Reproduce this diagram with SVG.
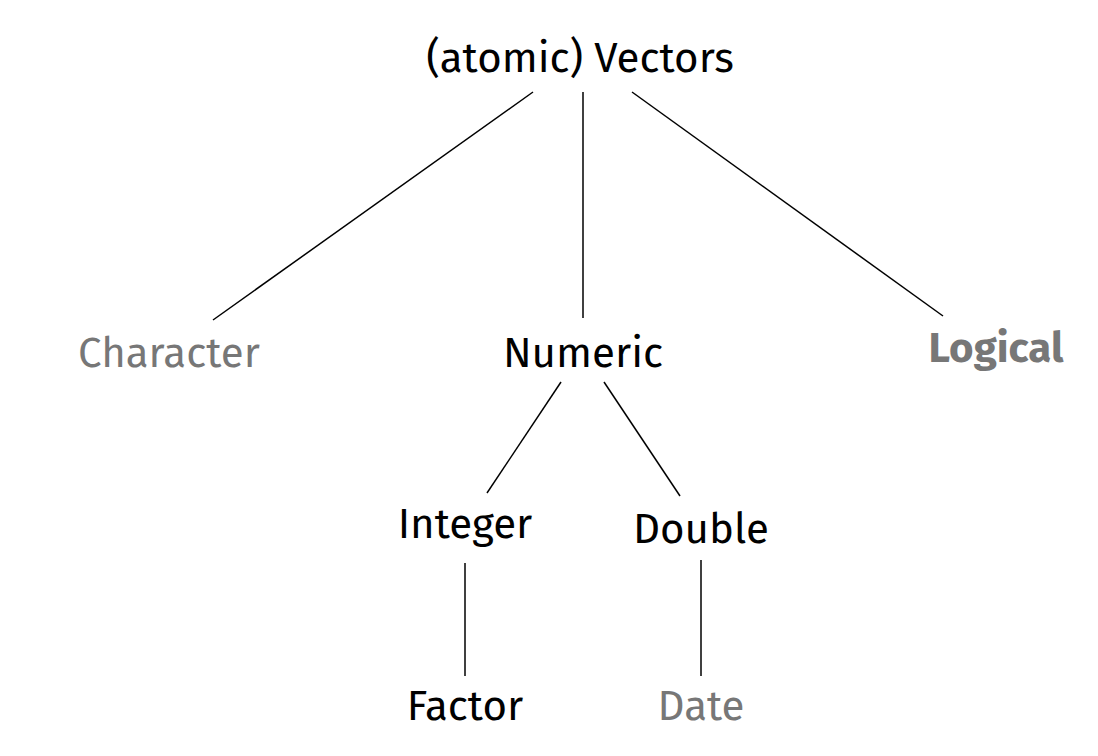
<svg xmlns="http://www.w3.org/2000/svg" width="1098" height="756" viewBox="0 0 1098 756">
<style>
text{font-family:"Fira Sans","Open Sans","Noto Sans",sans-serif;font-size:42px;text-anchor:middle;fill:#000}
.g{fill:#777}
.b{font-weight:bold}
#edges line{stroke:#000;stroke-width:1.5}
</style>
<rect width="1098" height="756" fill="#fff"/>
<g id="edges">
<line x1="533" y1="92" x2="213" y2="320"/>
<line x1="583" y1="92" x2="583" y2="318"/>
<line x1="632" y1="92" x2="943" y2="316"/>
<line x1="561" y1="382" x2="487" y2="493"/>
<line x1="604" y1="382" x2="680" y2="496"/>
<line x1="465" y1="563" x2="465" y2="676"/>
<line x1="701" y1="560" x2="701" y2="676"/>
</g>
<g id="vectors"><text x="580" y="72">(atomic) Vectors</text></g>
<g id="character"><text class="g" x="169" y="367">Character</text></g>
<g id="numeric"><text x="583" y="367">Numeric</text></g>
<g id="logical"><text class="g b" x="996" y="362">Logical</text></g>
<g id="integer"><text x="465" y="538">Integer</text></g>
<g id="double"><text x="701" y="543">Double</text></g>
<g id="factor"><text x="465" y="720">Factor</text></g>
<g id="date"><text class="g" x="701" y="720">Date</text></g>
</svg>
